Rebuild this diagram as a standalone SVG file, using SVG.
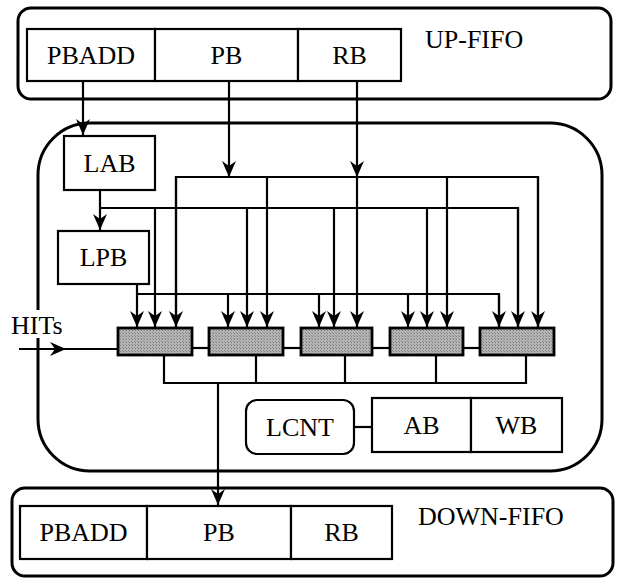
<svg xmlns="http://www.w3.org/2000/svg" width="621" height="579" viewBox="0 0 621 579">
<defs>
<marker id="ah" viewBox="0 0 16 14" refX="16" refY="7" markerWidth="16" markerHeight="14" markerUnits="userSpaceOnUse" orient="auto">
<path d="M0,0 L16,7 L0,14 L5,7 Z" fill="#000"/>
</marker>
<pattern id="stip" width="3" height="3" patternUnits="userSpaceOnUse">
<rect width="3" height="3" fill="#b4b4b4"/>
<rect width="1" height="1" fill="#7a7a7a"/>
<rect x="2" y="2" width="1" height="1" fill="#8a8a8a"/>
</pattern>
<style>
.box{fill:#fff;stroke:#000;stroke-width:2.2}
.frame{fill:none;stroke:#000;stroke-width:3}
.blk{fill:url(#stip);stroke:#000;stroke-width:2.8}
.ln{fill:none;stroke:#000;stroke-width:2.2}
.ar{fill:none;stroke:#000;stroke-width:2.2;marker-end:url(#ah)}
.c{text-anchor:middle}
</style>
</defs>

<g font-family="Liberation Serif, Times New Roman, serif" font-size="26" fill="#000">
<g id="up-fifo">
<rect class="frame" x="18" y="8" width="593" height="91" rx="13"/>
<rect class="box" x="27" y="29" width="128" height="52"/>
<rect class="box" x="155" y="29" width="143" height="52"/>
<rect class="box" x="298" y="29" width="103" height="52"/>
<text class="c" x="91" y="64">PBADD</text>
<text class="c" x="226.5" y="64">PB</text>
<text class="c" x="349.5" y="64">RB</text>
<text x="425" y="48">UP-FIFO</text>
</g>

<g id="main-frame">
<path class="frame" d="M38,338 V419 A52,52 0 0 0 90,471 H550 A52,52 0 0 0 602,419 V175 A52,52 0 0 0 550,123 H90 A52,52 0 0 0 38,175 V310"/>
</g>

<g id="lab">
<rect class="box" x="64" y="136" width="91" height="54"/>
<text class="c" x="109.5" y="172">LAB</text>
</g>
<g id="lpb">
<rect class="box" x="58" y="231" width="91" height="53"/>
<text class="c" x="103.5" y="266">LPB</text>
</g>

<g id="hits">
<text x="11" y="334">HITs</text>
</g>

<g id="blocks">
<rect id="b1" class="blk" x="118" y="328" width="74" height="27"/>
<rect id="b2" class="blk" x="209" y="328" width="74" height="27"/>
<rect id="b3" class="blk" x="301" y="328" width="71" height="27"/>
<rect id="b4" class="blk" x="390" y="328" width="73" height="27"/>
<rect id="b5" class="blk" x="480" y="328" width="74" height="27"/>
</g>

<g id="lcnt">
<rect class="box" x="246" y="400" width="108" height="54" rx="11"/>
<text class="c" x="300" y="436">LCNT</text>
</g>
<g id="ab">
<rect class="box" x="372" y="398" width="99" height="54"/>
<text class="c" x="421.5" y="434">AB</text>
</g>
<g id="wb">
<rect class="box" x="471" y="398" width="91" height="54"/>
<text class="c" x="516.5" y="434">WB</text>
</g>

<g id="down-fifo">
<rect class="frame" x="12" y="488" width="601" height="88" rx="13"/>
<rect class="box" x="20" y="506" width="127" height="53"/>
<rect class="box" x="147" y="506" width="144" height="53"/>
<rect class="box" x="291" y="506" width="101" height="53"/>
<text class="c" x="83.5" y="541">PBADD</text>
<text class="c" x="219" y="541">PB</text>
<text class="c" x="341.5" y="541">RB</text>
<text x="418" y="525">DOWN-FIFO</text>
</g>
</g>

<g id="connectors">
<line class="ar" x1="83" y1="81" x2="83" y2="135"/>
<line class="ar" x1="229" y1="81" x2="229" y2="177"/>
<line class="ar" x1="357" y1="81" x2="357" y2="177"/>
<line class="ar" x1="100" y1="190" x2="100" y2="230"/>
<polyline class="ln" points="176,328 176,177 538,177 538,328"/>
<polyline class="ln" points="100,208 518,208 518,328"/>
<polyline class="ln" points="137,284 137,294 499,294 499,328"/>
<line class="ar" x1="137" y1="294" x2="137" y2="327"/>
<line class="ar" x1="155" y1="208" x2="155" y2="327"/>
<line class="ar" x1="176" y1="177" x2="176" y2="327"/>
<line class="ar" x1="228" y1="294" x2="228" y2="327"/>
<line class="ar" x1="247" y1="208" x2="247" y2="327"/>
<line class="ar" x1="267" y1="177" x2="267" y2="327"/>
<line class="ar" x1="319" y1="294" x2="319" y2="327"/>
<line class="ar" x1="334" y1="208" x2="334" y2="327"/>
<line class="ar" x1="357" y1="177" x2="357" y2="327"/>
<line class="ar" x1="408" y1="294" x2="408" y2="327"/>
<line class="ar" x1="427" y1="208" x2="427" y2="327"/>
<line class="ar" x1="447" y1="177" x2="447" y2="327"/>
<line class="ar" x1="499" y1="294" x2="499" y2="327"/>
<line class="ar" x1="518" y1="208" x2="518" y2="327"/>
<line class="ar" x1="538" y1="177" x2="538" y2="327"/>
<line class="ar" x1="19" y1="349" x2="66" y2="349"/>
<line class="ln" x1="60" y1="349" x2="118" y2="349"/>
<line class="ln" x1="192" y1="348" x2="209" y2="348"/>
<line class="ln" x1="283" y1="348" x2="301" y2="348"/>
<line class="ln" x1="372" y1="348" x2="390" y2="348"/>
<line class="ln" x1="463" y1="348" x2="480" y2="348"/>
<polyline class="ln" points="164,355 164,383 526,383 526,355"/>
<line class="ln" x1="256" y1="355" x2="256" y2="383"/>
<line class="ln" x1="345" y1="355" x2="345" y2="383"/>
<line class="ln" x1="436" y1="355" x2="436" y2="383"/>
<line class="ar" x1="218" y1="383" x2="218" y2="505"/>
<line class="ln" x1="354" y1="427" x2="372" y2="427"/>
</g>
</svg>
